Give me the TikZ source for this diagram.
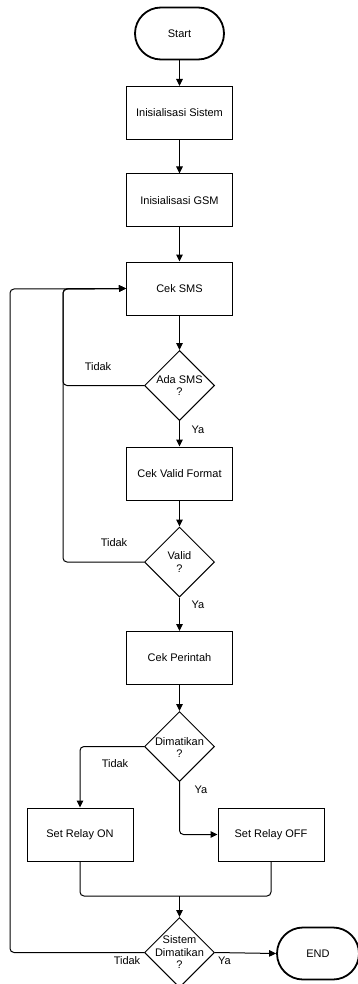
\documentclass[tikz,border=0pt]{standalone}
\usepackage{fontspec}
\setmainfont{Liberation Sans}
\usetikzlibrary{shapes.geometric,arrows.meta}
\begin{document}
\begin{tikzpicture}[x=1pt,y=-1pt,
  font=\fontsize{11}{12.5}\selectfont,
  procbox/.style={draw,line width=1pt,minimum width=106pt,minimum height=53pt,inner sep=0pt},
  term/.style={draw,line width=1.8pt,rounded corners=26pt,minimum height=52pt,inner sep=0pt},
  dia/.style={draw,line width=1pt,diamond,minimum width=70pt,minimum height=70pt,inner sep=0pt},
  dtext/.style={align=center,inner sep=0pt},
  arr/.style={draw,line width=1pt,-{Triangle[length=7pt,width=6.5pt]},rounded corners=4pt},
  lbl/.style={inner sep=0pt}]
\useasboundingbox (0,0) rectangle (357,984);
\node[term,minimum width=89pt] (start) at (179.5,33.5) {Start};
\node[procbox] (inis) at (179.5,113) {Inisialisasi Sistem};
\node[procbox] (gsm) at (179.5,200.5) {Inisialisasi GSM};
\node[procbox] (ceksms) at (179.5,288.5) {Cek SMS};
\node[dia] (ada) at (179.5,385.5) {};
\node[dtext] at (ada) {Ada SMS\\?};
\node[procbox] (valf) at (179.5,473.5) {Cek Valid Format};
\node[dia] (valid) at (179.5,562) {};
\node[dtext] at (valid) {Valid\\?};
\node[procbox] (perintah) at (179.5,658) {Cek Perintah};
\node[dia] (mati) at (179.5,746.5) {};
\node[dtext] at ([yshift=-1pt]mati.center) {Dimatikan\\?};
\node[procbox] (on) at (80,834.5) {Set Relay ON};
\node[procbox] (off) at (271,834.5) {Set Relay OFF};
\node[dia] (sis) at (179.5,952.5) {};
\node[dtext] at (sis) {Sistem\\Dimatikan\\?};
\node[term,minimum width=82pt] (end) at (318,953.5) {END};
\coordinate (merge) at (179.5,896);

\draw[arr] (start) -- (inis);
\draw[arr] (inis) -- (gsm);
\draw[arr] (gsm) -- (ceksms);
\draw[arr] (ceksms) -- (ada);
\draw[arr] (ada) -- (valf);
\draw[arr] (valf) -- (valid);
\draw[arr] (valid) -- (perintah);
\draw[arr] (perintah) -- (mati);
\draw[arr] (ada.west) -- (63,385.5) -- (63,289) -- (ceksms.west);
\draw[arr] (valid.west) -- (63,562) -- (63,289) -- (ceksms.west);
\draw[arr] (sis.west) -- (10,952.5) -- (10,289) -- (ceksms.west);
\draw[arr] (mati.west) -- (80,746.5) -- (on.north);
\draw[arr] (mati.south) -- (179.5,834.5) -- (off.west);
\draw[line width=1pt,rounded corners=4pt] (on.south) -- (80,896) -- (merge);
\draw[line width=1pt,rounded corners=4pt] (off.south) -- (271,896) -- (merge);
\draw[arr] (merge) -- (sis.north);
\draw[arr] (sis.east) -- (end.west);

\node[lbl] at (98,367) {Tidak};
\node[lbl] at (198,429.5) {Ya};
\node[lbl] at (114,543) {Tidak};
\node[lbl] at (198,605) {Ya};
\node[lbl] at (115,763.5) {Tidak};
\node[lbl] at (201,790) {Ya};
\node[lbl] at (127,961) {Tidak};
\node[lbl] at (224.5,961) {Ya};
\end{tikzpicture}
\end{document}
